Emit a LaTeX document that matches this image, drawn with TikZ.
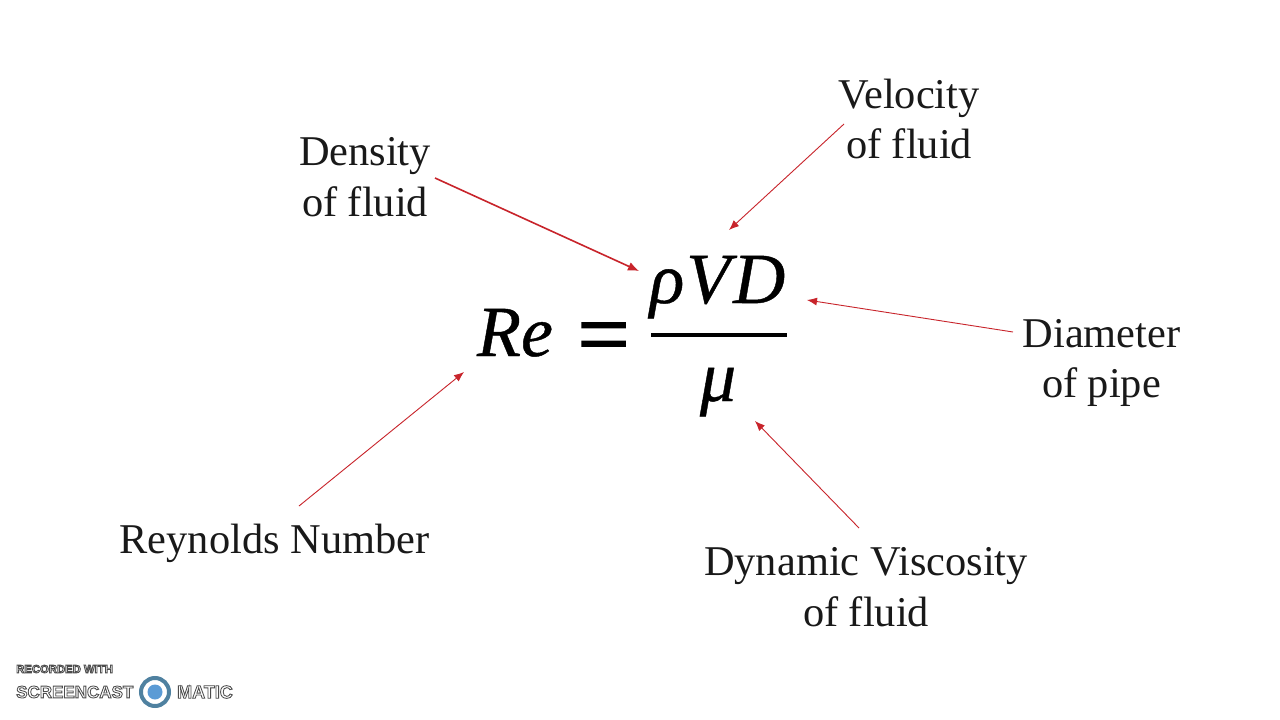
\documentclass[tikz,border=0pt]{standalone}
\usepackage{fontspec}
\setmainfont{Liberation Serif}
\newfontfamily\eqfont[ItalicFont=Liberation Serif Italic,ItalicFeatures={FakeBold=0.6}]{Liberation Serif}
\newfontfamily\eqsign[FakeBold=1.8]{Liberation Serif}
\newfontfamily\logofont{Liberation Sans}
\usetikzlibrary{arrows.meta}
\definecolor{arrowred}{HTML}{C8242B}
\definecolor{logoblue}{HTML}{5B9BD5}
\definecolor{logoring}{HTML}{4F81A0}
\newcommand{\outl}[1]{\special{pdf:code 2 Tr 0.85 w 0.3 G}#1\special{pdf:code 0 Tr}}
\tikzset{
  lbl/.style={inner sep=0pt,align=center,font=\fontsize{42.4}{50.5}\selectfont,text=black!90},
  eq/.style={inner sep=0pt,anchor=base,font=\fontsize{72}{72}\selectfont\eqfont\itshape},
  conn/.style={draw=arrowred,line width=0.9pt,-{Latex[length=10pt,width=8pt]}},
  connb/.style={conn,line width=1.6pt,-{Latex[length=11pt,width=9pt]}},
  wm/.style={inner sep=0pt,anchor=west,text=white},
}
\begin{document}
\begin{tikzpicture}[x=1pt,y=-1pt]
\useasboundingbox (0,0) rectangle (1280,720);
\fill[white] (0,0) rectangle (1280,720);
% labels
\node[lbl] (density) at (365,177) {Density\\of fluid};
\node[lbl] (velocity) at (909,119) {Velocity\\of fluid};
\node[lbl] (diameter) at (1101.5,363) {Diameter\\of pipe};
\node[lbl] (viscosity) at (866,587) {Dynamic Viscosity\\of fluid};
\node[lbl] (reynolds) at (274.5,543) {Reynolds Number};
% equation
\node[eq] (re) at (515,356) {Re};
\node[eq,font=\fontsize{92}{92}\selectfont\eqsign] (equals) at (603.5,365) {=};
\node[eq] (num) at (717.5,303) {ρ\kern2pt V\kern3pt D};
\node[eq] (mu) at (718,401) {μ};
\coordinate (barl) at (651,335);
\coordinate (barr) at (787,335);
\draw[line width=4.5pt] (barl) -- (barr);
% connector ends
\coordinate (c1s) at (435,178); \coordinate (c1e) at (639,271);
\coordinate (c2s) at (844,124); \coordinate (c2e) at (729,230);
\coordinate (c3s) at (1013,332); \coordinate (c3e) at (807,300);
\coordinate (c4s) at (859,528); \coordinate (c4e) at (755,421);
\coordinate (c5s) at (299,506); \coordinate (c5e) at (464,372);
\draw[connb] (c1s) -- (c1e);
\draw[conn] (c2s) -- (c2e);
\draw[conn] (c3s) -- (c3e);
\draw[conn] (c4s) -- (c4e);
\draw[conn] (c5s) -- (c5e);
% watermark
\node[wm,font=\logofont\bfseries\fontsize{11.3}{12}\selectfont] (rec) at (16,669) {\outl{RECORDED WITH}};
\node[wm,font=\logofont\bfseries\fontsize{17}{18}\selectfont] (sc) at (16,692) {\outl{SCREENCAST}};
\node[wm,font=\logofont\bfseries\fontsize{18}{18}\selectfont] (mt) at (177,692) {\outl{MATIC}};
\node[circle,draw=logoring,line width=4pt,fill=white,minimum size=28pt,inner sep=0pt] (ring) at (155,692) {};
\node[circle,fill=logoblue,minimum size=15pt,inner sep=0pt] (dot) at (155,692) {};
\end{tikzpicture}
\end{document}
